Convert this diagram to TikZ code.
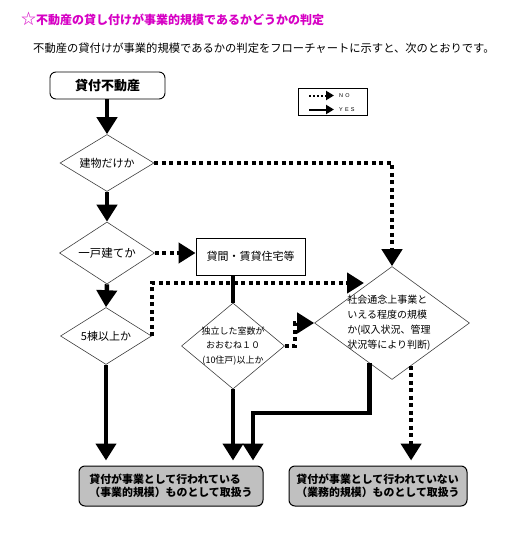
\documentclass[tikz,border=0pt]{standalone}
\usepackage{fontspec}
\setmainfont{Noto Sans CJK JP}
\newfontfamily\legfont[LetterSpace=40]{Liberation Sans}
\usetikzlibrary{arrows.meta}
\usetikzlibrary{shapes.geometric}
\definecolor{titlepink}{RGB}{214,0,196}
\definecolor{boxgray}{RGB}{192,192,192}

\tikzset{
  yes/.style={line width=4.5pt, -{Triangle[length=17pt,width=20pt]}},
  no/.style={yes, dash pattern=on 4pt off 3.5pt},
  smallyes/.style={line width=2pt, -{Triangle[length=8pt,width=9pt]}},
  smallno/.style={smallyes, dash pattern=on 2pt off 2pt},
  plainline/.style={line width=4.5pt},
  decision/.style={diamond, draw=black!75, line width=0.6pt, inner sep=0pt},
  startbox/.style={draw, rounded corners=6pt, line width=0.9pt, minimum width=115pt,
    minimum height=27pt, font=\bfseries\fontsize{13}{15}\selectfont},
  resultbox/.style={draw, rounded corners=6pt, line width=1pt, fill=boxgray,
    minimum height=40pt, align=left, font=\bfseries\fontsize{10.9}{13.5}\selectfont}
}

\begin{document}
\begin{tikzpicture}[x=1pt, y=-1pt]
\useasboundingbox (0,0) rectangle (516,551);

% heading and intro line
\node[anchor=west, inner sep=0pt, text=titlepink, font=\fontsize{12}{14}\selectfont] (title) at (21,19)
  {{\fontsize{15}{15}\selectfont ☆}\textbf{不動産の貸し付けが事業的規模であるかどうかの判定}};
\node[anchor=west, inner sep=0pt, font=\fontsize{11.3}{13}\selectfont] (intro) at (33,48)
  {不動産の貸付けが事業的規模であるかの判定をフローチャートに示すと、次のとおりです。};

% legend
\node[draw, line width=0.8pt, minimum width=69pt, minimum height=27pt] (legend) at (332.5,101.5) {};
\node[anchor=west, inner sep=0pt, font=\legfont\fontsize{5.5}{6}\selectfont] (nolab) at (339,95.5) {NO};
\node[anchor=west, inner sep=0pt, font=\legfont\fontsize{5.5}{6}\selectfont] (yeslab) at (339,109.5) {YES};
\coordinate (nofrom) at (309,95.5);
\coordinate (yesfrom) at (309,109.5);
\draw[smallno, shorten >=5pt] (nofrom) -- (nolab.west);
\draw[smallyes, shorten >=5pt] (yesfrom) -- (yeslab.west);

% start and decisions
\node[startbox] (start) at (107.5,85.5) {貸付不動産};
\node[decision, minimum width=94pt, minimum height=57pt,
  label={[font=\fontsize{11}{13}\selectfont]center:建物だけか}] (d1) at (107,163) {};
\node[decision, minimum width=95pt, minimum height=62pt,
  label={[font=\fontsize{11.5}{13}\selectfont]center:一戸建てか}] (d2) at (107,253) {};
\node[decision, minimum width=91pt, minimum height=57pt,
  label={[font=\fontsize{11}{13}\selectfont]center:5棟以上か}] (d3) at (106,336) {};
\node[draw, line width=0.9pt, minimum width=109pt, minimum height=37pt,
  font=\fontsize{11}{13}\selectfont] (rental) at (250.5,256.5) {貸間・賃貸住宅等};
\node[decision, minimum width=103pt, minimum height=86pt,
  label={[font=\fontsize{9}{14.5}\selectfont, align=center]center:独立した室数が\\おおむね１０\\(10住戸)以上か}] (d4) at (233,346) {};
\node[decision, minimum width=155pt, minimum height=113pt,
  label={[font=\fontsize{10}{15}\selectfont, align=left, xshift=-3pt]center:社会通念上事業と\\いえる程度の規模\\か(収入状況、管理\\状況等により判断)}] (d5) at (392,323) {};

% results
\node[resultbox, minimum width=184pt] (res1) at (171,486)
  {貸付が事業として行われている\\（事業的規模）ものとして取扱う};
\node[resultbox, minimum width=178pt] (res2) at (378,486)
  {貸付が事業として行われていない\\（業務的規模）ものとして取扱う};

% NO branches (dotted)
\coordinate (d5in) at (364,283);
\draw[no] (d1.east) -| (d5.north);
\draw[no] (d2.east) -- (d2.east -| rental.west);
\draw[no] (d3.east) |- (d5in);
\draw[no] (d4.east) -- ++(10,0) |- (d5.west);
\draw[no, shorten >=5pt] (d5.-66) -- (d5.-66 |- res2.north);

% YES branches (solid)
\coordinate (jog) at (253,413);
\draw[yes] (start.south -| d1.north) -- (d1.north);
\draw[yes] (d1.south) -- (d2.north);
\draw[yes] (d2.south) -- (d3.north);
\draw[plainline] (rental.south -| d4.north) -- (d4.north);
\draw[yes, shorten >=5pt] (d3.south) -- (d3.south |- res1.north);
\draw[yes, shorten >=5pt] (d4.south) -- (d4.south |- res1.north);
\draw[yes, shorten >=5pt] (d5.-119) |- (jog) -- (jog |- res1.north);

\end{tikzpicture}
\end{document}
